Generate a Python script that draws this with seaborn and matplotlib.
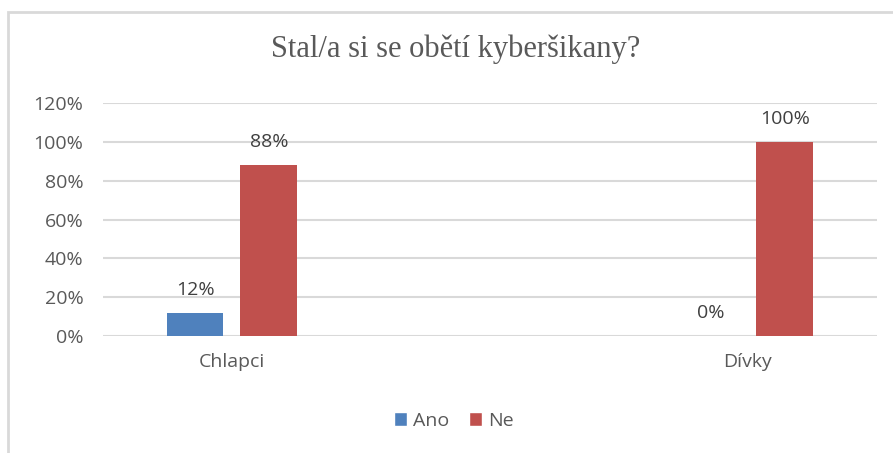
import pandas as pd
import matplotlib.pyplot as plt
import seaborn as sns
from matplotlib.patches import Rectangle, Patch

# data
groups = ['Chlapci', 'Dívky']
answers = ['Ano', 'Ne']
ano_vals = [12, 0]
ne_vals = [88, 100]
y_ticks = [0, 20, 40, 60, 80, 100, 120]

df = pd.DataFrame({
    'Skupina': groups * 2,
    'Odpoved': ['Ano'] * len(groups) + ['Ne'] * len(groups),
    'Procento': ano_vals + ne_vals,
})

colors = {'Ano': '#4F81BD', 'Ne': '#C0504D'}
txt = '#595959'
font = 'Open Sans'
fs = 14

sns.set_theme(style='white')
plt.rcParams['font.family'] = [font, 'DejaVu Sans']

fig = plt.figure(figsize=(8.93, 4.53), dpi=100)
ax = fig.add_axes([0.1153, 0.2583, 0.982 - 0.1153, 0.7726 - 0.2583])

sns.barplot(ax=ax, data=df, x='Skupina', y='Procento', hue='Odpoved',
            hue_order=answers, palette=colors, width=0.286, gap=0.23,
            legend=False, saturation=1, linewidth=0)

# value labels
for cont in ax.containers:
    ax.bar_label(cont, labels=[f'{int(v)}%' for v in cont.datavalues],
                 padding=10, fontsize=fs, color='#404040')

ax.set_xlim(-0.25, 1.25)
ax.set_ylim(0, 120)
ax.set_yticks(y_ticks)
ax.set_yticklabels([f'{v}%' for v in y_ticks], fontsize=fs, color=txt)
ax.tick_params(axis='x', labelsize=fs, labelcolor=txt, pad=12, length=0)
ax.tick_params(axis='y', pad=14, length=0)
ax.set_xlabel('')
ax.set_ylabel('')
ax.yaxis.grid(True, color='#d9d9d9', linewidth=1.5)
ax.set_axisbelow(True)
for s in ax.spines.values():
    s.set_visible(False)

fig.text(0.51, 1 - 49 / 453, 'Stal/a si se obětí kyberšikany?',
         ha='center', va='center', fontsize=22, color=txt,
         family='Liberation Serif')

# legend
handles = [Patch(facecolor=colors[a], label=a) for a in answers]
fig.legend(handles=handles, loc='center', bbox_to_anchor=(0.508, 1 - 421 / 453),
           ncol=2, frameon=False, fontsize=fs, handlelength=0.7,
           handleheight=0.7, handletextpad=0.3, columnspacing=1.0,
           labelcolor=txt)

# outer chart border
fig.patches.append(Rectangle((8 / 893, -0.2), 1.2, 1 - 12 / 453 + 0.2,
                             transform=fig.transFigure, fill=False,
                             edgecolor='#d9d9d9', linewidth=2))

fig.savefig('out.png', dpi=100)
